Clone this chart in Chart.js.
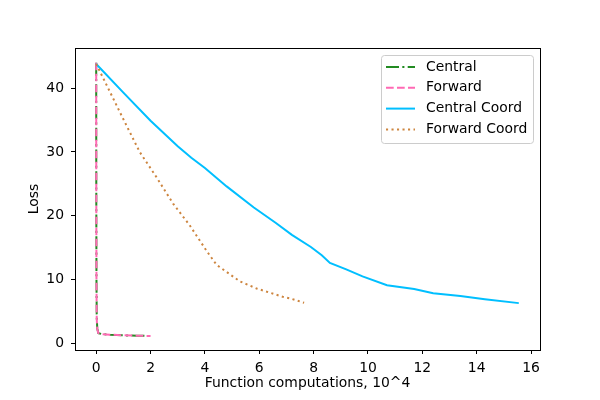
<!DOCTYPE html>
<html><head><meta charset="utf-8">
<script src="https://cdn.jsdelivr.net/npm/chart.js@4.4.0/dist/chart.umd.min.js"></script>
<style>html,body{margin:0;padding:0;background:#fff}#wrap{width:600px;height:400px}</style>
</head><body><div id="wrap"><canvas id="c" width="600" height="400"></canvas></div>
<script>
const seriesNames = ["Central", "Forward", "Central Coord", "Forward Coord"];
const centralX = [0, 0.002, 0.005, 0.01, 0.02, 0.04, 0.08, 0.2, 0.5, 1.0, 1.5, 2.0];
const centralY = [44.0, 32.0, 20.0, 10.0, 4.0, 2.3, 1.6, 1.45, 1.35, 1.25, 1.2, 1.15];
const forwardX = [0, 0.002, 0.005, 0.01, 0.02, 0.04, 0.08, 0.2, 0.5, 1.0, 1.5, 2.0];
const forwardY = [44.0, 31.0, 19.0, 9.5, 3.8, 2.2, 1.6, 1.45, 1.35, 1.25, 1.2, 1.15];
const centralCoordX = [0, 1, 2, 3, 3.5, 4, 4.8, 5.8, 6.6, 7.2, 7.9, 8.3, 8.6, 9.2, 9.8, 10.7, 11.7, 12.4, 13.4, 14.3, 15.55];
const centralCoordY = [43.8, 39.3, 34.9, 30.9, 29.1, 27.5, 24.6, 21.3, 18.9, 17.0, 15.1, 13.8, 12.6, 11.6, 10.5, 9.1, 8.5, 7.85, 7.4, 6.9, 6.3];
const forwardCoordX = [0, 0.37, 0.98, 1.6, 2.21, 2.83, 3.44, 4.06, 4.43, 5.29, 5.9, 6.86, 7.13, 7.65];
const forwardCoordY = [43.8, 40.6, 35.3, 30.0, 26.1, 21.9, 18.5, 14.5, 12.3, 9.7, 8.6, 7.3, 7.05, 6.35];
const xTicks = [0, 2, 4, 6, 8, 10, 12, 14, 16];
const yTicks = [0, 10, 20, 30, 40];

const zip = (xs, ys) => xs.map((x, i) => ({x: x, y: ys[i]}));
const styles = [
  {color: "#228b22", dash: [13, 3.3, 2.1, 3.3], order: 3},
  {color: "#ff69b4", dash: [7.7, 3.3], order: 2},
  {color: "#00bfff", dash: [], order: 1},
  {color: "#cd853f", dash: [2.1, 3.4], order: 0}
];
const allData = [zip(centralX, centralY), zip(forwardX, forwardY), zip(centralCoordX, centralCoordY), zip(forwardCoordX, forwardCoordY)];
const datasets = allData.map((d, i) => ({
  label: seriesNames[i], data: d, borderColor: styles[i].color, backgroundColor: styles[i].color,
  borderDash: styles[i].dash, borderWidth: 2, pointRadius: 0, tension: 0, fill: false, order: styles[i].order
}));

const FONT = "'DejaVu Sans', sans-serif";
const FS = 13.9;
const frame = {
  id: "frame",
  afterDatasetsDraw(chart) {
    const a = chart.chartArea, ctx = chart.ctx;
    ctx.save();
    ctx.strokeStyle = "#000"; ctx.lineWidth = 1;
    ctx.strokeRect(Math.round(a.left) + 0.5, Math.round(a.top) + 0.5, Math.round(a.right - a.left), Math.round(a.bottom - a.top));
    // legend
    const bx = a.right - 159, by = a.top + 7, bw = 152, bh = 88;
    ctx.fillStyle = "rgba(255,255,255,0.8)";
    ctx.strokeStyle = "#cccccc";
    ctx.beginPath();
    if (ctx.roundRect) ctx.roundRect(bx + 0.5, by + 0.5, bw, bh, 3); else ctx.rect(bx + 0.5, by + 0.5, bw, bh);
    ctx.fill(); ctx.stroke();
    ctx.font = FS + "px " + FONT;
    ctx.textBaseline = "middle";
    seriesNames.forEach((n, i) => {
      const y = by + 12 + i * 20.8;
      ctx.strokeStyle = styles[i].color; ctx.lineWidth = 2;
      ctx.setLineDash(styles[i].dash);
      ctx.beginPath(); ctx.moveTo(bx + 5, y); ctx.lineTo(bx + 34, y); ctx.stroke();
      ctx.setLineDash([]);
      ctx.fillStyle = "#000";
      ctx.fillText(n, bx + 45, y);
    });
    ctx.restore();
  }
};

new Chart(document.getElementById("c"), {
  type: "line",
  data: {datasets: datasets},
  options: {
    responsive: false, animation: false, devicePixelRatio: 1,
    layout: {padding: {left: 26, right: 60, top: 48, bottom: 8}},
    plugins: {legend: {display: false}, tooltip: {enabled: false}},
    scales: {
      x: {
        type: "linear", min: -0.78, max: 16.33,
        afterBuildTicks: s => { s.ticks = xTicks.map(v => ({value: v})); },
        afterFit: s => { s.height = 42; },
        grid: {display: true, drawOnChartArea: false, drawTicks: true, tickLength: 4, color: "#000", tickColor: "#000"},
        border: {display: true, color: "#000"},
        ticks: {color: "#000", font: {family: FONT, size: FS}, padding: 6, maxRotation: 0, autoSkip: false},
        title: {display: true, text: "Function computations, 10^4", color: "#000", font: {family: FONT, size: FS}, padding: {top: 0, bottom: 0}}
      },
      y: {
        type: "linear", min: -1.05, max: 46.3,
        afterBuildTicks: s => { s.ticks = yTicks.map(v => ({value: v})); },
        afterFit: s => { s.width = 49; },
        grid: {display: true, drawOnChartArea: false, drawTicks: true, tickLength: 4, color: "#000", tickColor: "#000"},
        border: {display: true, color: "#000"},
        ticks: {color: "#000", font: {family: FONT, size: FS}, padding: 7, autoSkip: false},
        title: {display: true, text: "Loss", color: "#000", font: {family: FONT, size: FS}, padding: {top: 0, bottom: 0}}
      }
    }
  },
  plugins: [frame]
});
</script></body></html>
